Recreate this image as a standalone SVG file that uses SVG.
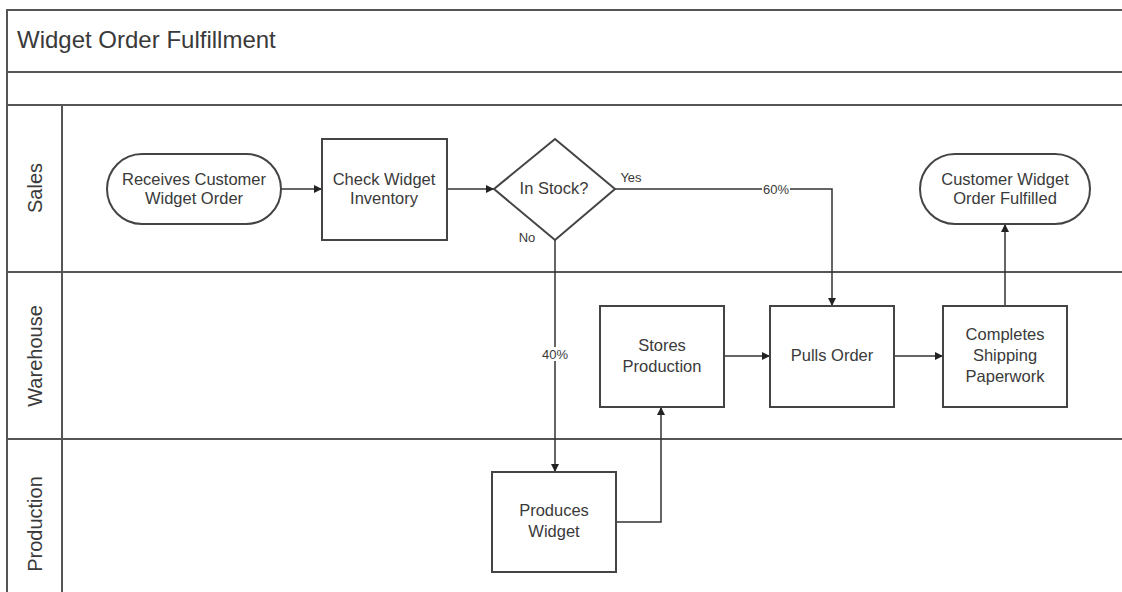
<svg xmlns="http://www.w3.org/2000/svg" width="1122" height="592" viewBox="0 0 1122 592">
<style>
.frame{stroke:#555;stroke-width:2;fill:none}
.node{fill:#fff;stroke:#444;stroke-width:2}
.conn{fill:none;stroke:#333;stroke-width:1.5}
.t{font-family:"Liberation Sans",Arial,sans-serif;font-size:16.5px;fill:#3a3a3a;text-anchor:middle}
.lbl{font-family:"Liberation Sans",Arial,sans-serif;font-size:13px;fill:#3a3a3a;text-anchor:middle}
.lane{font-family:"Liberation Sans",Arial,sans-serif;font-size:20px;fill:#3a3a3a;text-anchor:middle}
.title{font-family:"Liberation Sans",Arial,sans-serif;font-size:24px;fill:#3a3a3a}
</style>
<defs>
<marker id="arr" viewBox="0 0 10 10" refX="10" refY="5" markerWidth="8" markerHeight="8" orient="auto" markerUnits="userSpaceOnUse">
<path d="M0,0 L10,5 L0,10 z" fill="#222"/>
</marker>
</defs>
<rect width="1122" height="592" fill="#fff"/>
<g id="frame">
<path class="frame" d="M7,592 V10 H1122"/>
<line class="frame" x1="7" y1="72" x2="1122" y2="72"/>
<line class="frame" x1="7" y1="105" x2="1122" y2="105"/>
<line class="frame" x1="7" y1="272" x2="1122" y2="272"/>
<line class="frame" x1="7" y1="439" x2="1122" y2="439"/>
<line class="frame" x1="62" y1="105" x2="62" y2="592"/>
<text class="title" x="17" y="48">Widget Order Fulfillment</text>
<text class="lane" transform="translate(42,188) rotate(-90)">Sales</text>
<text class="lane" transform="translate(42,356) rotate(-90)">Warehouse</text>
<text class="lane" transform="translate(42,524) rotate(-90)">Production</text>
</g>
<g id="connectors">
<line class="conn" x1="281" y1="189" x2="322" y2="189" marker-end="url(#arr)"/>
<line class="conn" x1="447" y1="189" x2="494" y2="189" marker-end="url(#arr)"/>
<polyline class="conn" points="615,189 832,189 832,306" marker-end="url(#arr)"/>
<polyline class="conn" points="555,240 555,472" marker-end="url(#arr)"/>
<polyline class="conn" points="616,522 661,522 661,407" marker-end="url(#arr)"/>
<line class="conn" x1="724" y1="356" x2="770" y2="356" marker-end="url(#arr)"/>
<line class="conn" x1="894" y1="356" x2="943" y2="356" marker-end="url(#arr)"/>
<line class="conn" x1="1005" y1="306" x2="1005" y2="224" marker-end="url(#arr)"/>
<text class="lbl" x="631" y="182">Yes</text>
<text class="lbl" x="527" y="242">No</text>
<rect x="762" y="182" width="28" height="14" fill="#fff"/>
<text class="lbl" x="776" y="194">60%</text>
<rect x="540" y="347" width="30" height="14" fill="#fff"/>
<text class="lbl" x="555" y="359">40%</text>
</g>
<g id="n-receive">
<rect class="node" x="107" y="154" width="174" height="70" rx="35"/>
<text class="t" x="194" y="185">Receives Customer</text>
<text class="t" x="194" y="204">Widget Order</text>
</g>
<g id="n-check">
<rect class="node" x="322" y="139" width="125" height="101"/>
<text class="t" x="384" y="185">Check Widget</text>
<text class="t" x="384" y="204">Inventory</text>
</g>
<g id="n-instock">
<polygon class="node" points="555,139 615,189 555,240 494,189"/>
<text class="t" x="554" y="194">In Stock?</text>
</g>
<g id="n-fulfilled">
<rect class="node" x="920" y="154" width="170" height="70" rx="35"/>
<text class="t" x="1005" y="185">Customer Widget</text>
<text class="t" x="1005" y="204">Order Fulfilled</text>
</g>
<g id="n-stores">
<rect class="node" x="600" y="306" width="124" height="101"/>
<text class="t" x="662" y="351">Stores</text>
<text class="t" x="662" y="372">Production</text>
</g>
<g id="n-pulls">
<rect class="node" x="770" y="306" width="124" height="101"/>
<text class="t" x="832" y="361">Pulls Order</text>
</g>
<g id="n-completes">
<rect class="node" x="943" y="306" width="124" height="101"/>
<text class="t" x="1005" y="340">Completes</text>
<text class="t" x="1005" y="361">Shipping</text>
<text class="t" x="1005" y="382">Paperwork</text>
</g>
<g id="n-produces">
<rect class="node" x="492" y="472" width="124" height="100"/>
<text class="t" x="554" y="516">Produces</text>
<text class="t" x="554" y="537">Widget</text>
</g>
</svg>
